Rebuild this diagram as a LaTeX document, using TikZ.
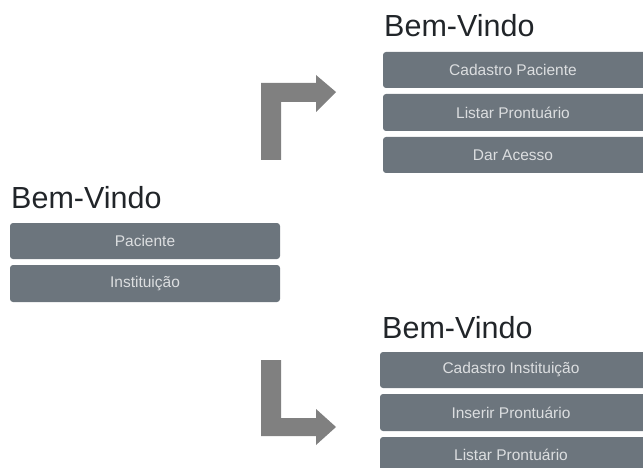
\documentclass[tikz,border=0pt]{standalone}
\usepackage{fontspec}
\setmainfont{Liberation Sans}
\definecolor{btn}{HTML}{6C757D}
\definecolor{btntext}{HTML}{DCDEE0}
\definecolor{ttl}{HTML}{212529}
\definecolor{arr}{HTML}{808080}
\begin{document}
\begin{tikzpicture}[x=1pt,y=-1pt,
  btnbox/.style={fill=btn,rounded corners=3pt,draw=none},
  btnlabel/.style={text=btntext,font=\fontsize{15.5}{17}\selectfont,inner sep=0pt},
  ttlnode/.style={anchor=base west,text=ttl,font=\fontsize{30.5}{33}\selectfont,inner sep=0pt}]
\useasboundingbox (0,0) rectangle (643,468);
\clip (0,0) rectangle (643,468);
% left block
\node[ttlnode] (t1) at (11,208) {Bem-Vindo};
\fill[btnbox] (10,223) rectangle (280,259);
\node[btnlabel] (b11) at (145,241) {Paciente};
\fill[btnbox] (10,265) rectangle (280,302);
\node[btnlabel] (b12) at (145,283.5) {Instituição};
% top right block
\node[ttlnode] (t2) at (384,37) {Bem-Vindo};
\fill[btnbox] (383,52) rectangle (660,88);
\node[btnlabel] (b21) at (513,70) {Cadastro Paciente};
\fill[btnbox] (383,94) rectangle (660,131);
\node[btnlabel] (b22) at (513,112.5) {Listar Prontuário};
\fill[btnbox] (383,137) rectangle (660,173);
\node[btnlabel] (b23) at (513,155) {Dar Acesso};
% bottom right block
\node[ttlnode] (t3) at (382,338) {Bem-Vindo};
\fill[btnbox] (380,352) rectangle (660,388);
\node[btnlabel] (b31) at (511,370) {Cadastro Instituição};
\fill[btnbox] (380,394) rectangle (660,431);
\node[btnlabel] (b32) at (511,412.5) {Inserir Prontuário};
\fill[btnbox] (380,437) rectangle (660,473);
\node[btnlabel] (b33) at (511,455) {Listar Prontuário};
% arrows
\fill[arr] (261,160) -- (261,83) -- (316,83) -- (316,75) -- (336,92) -- (316,112) -- (316,102) -- (281,102) -- (281,160) -- cycle;
\fill[arr] (261,360) -- (281,360) -- (281,418) -- (316,418) -- (316,409) -- (336,427) -- (316,445) -- (316,436) -- (261,436) -- cycle;
\end{tikzpicture}
\end{document}
